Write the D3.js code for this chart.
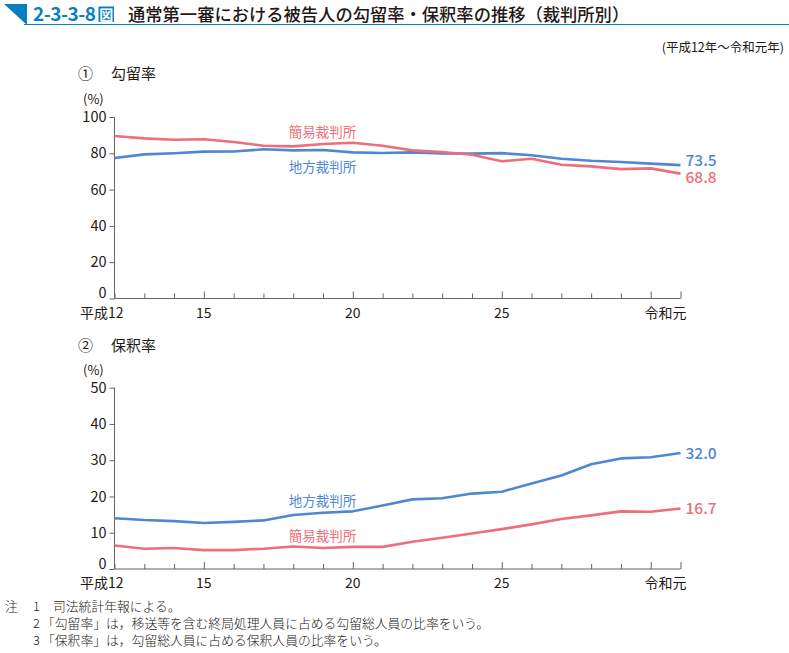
<!DOCTYPE html>
<html><head><meta charset="utf-8">
<script src="https://cdn.jsdelivr.net/npm/d3@7"></script>
<style>
html,body{margin:0;padding:0;background:#fff;}
svg{display:block;font-family:"Noto Sans CJK JP","Noto Sans",sans-serif;}
</style></head><body>
<svg id="c" width="789" height="653"></svg>
<script>
// Data
const years = [12,13,14,15,16,17,18,19,20,21,22,23,24,25,26,27,28,29,30,31];
const xTickLabels = [{y:12,t:"平成12"},{y:15,t:"15"},{y:20,t:"20"},{y:25,t:"25"},{y:31,t:"令和元"}];
const kouryuChiho = [77.4,79.4,80.0,80.9,81.0,82.2,81.6,81.8,80.5,80.2,80.5,79.9,79.8,80.1,78.9,77.0,75.9,75.2,74.3,73.5];
const kouryuKanni = [89.5,88.2,87.5,87.7,86.2,84.2,83.8,85.1,85.8,84.2,81.6,80.7,79.2,75.6,77.0,73.7,72.8,71.3,71.7,68.8];
const hoshakuChiho = [14.0,13.5,13.2,12.7,13.0,13.4,14.9,15.5,15.9,17.5,19.2,19.5,20.8,21.3,23.6,25.8,28.9,30.5,30.8,32.0];
const hoshakuKanni = [6.5,5.6,5.8,5.2,5.2,5.6,6.2,5.8,6.1,6.1,7.5,8.6,9.8,11.0,12.3,13.8,14.8,15.9,15.8,16.7];
const kouryuTicks = [0,20,40,60,80,100];
const hoshakuTicks = [0,10,20,30,40,50];

const BLUE = "#4f87d3", PINK = "#ee6e7b", TXT = "#231815", AX = "#6b6261", HEAD = "#0a7fbf";
const svg = d3.select("#c");

// Header
svg.append("path").attr("d","M4,4 L27,4 L27,25 Z").attr("fill",HEAD);
svg.append("line").attr("x1",24).attr("x2",789).attr("y1",24.5).attr("y2",24.5).attr("stroke",HEAD).attr("stroke-width",1.2);
svg.append("text").attr("x",33).attr("y",21).attr("fill",HEAD).attr("font-size",19).attr("font-weight",700)
  .attr("letter-spacing",-0.5).text("2-3-3-8");
svg.append("rect").attr("x",98.5).attr("y",6.5).attr("width",15.5).attr("height",15.5).attr("fill",HEAD);
svg.append("text").attr("x",106.3).attr("y",19.8).attr("text-anchor","middle").attr("fill","#fff").attr("font-size",14).attr("font-weight",700).text("図");
svg.append("text").attr("x",128).attr("y",21).attr("fill",TXT).attr("font-size",17.3).attr("font-weight",500)
  .text("通常第一審における被告人の勾留率・保釈率の推移（裁判所別）");
svg.append("text").attr("x",784).attr("y",52).attr("text-anchor","end").attr("fill",TXT).attr("font-size",12.5)
  .text("(平成12年～令和元年)");

const x = d3.scaleLinear().domain([12,31]).range([114.5,680.5]);

function panel(opt){
  const y = d3.scaleLinear().domain([0,opt.max]).range([opt.y0,opt.y1]);
  const g = svg.append("g");
  // panel title
  g.append("text").attr("x",78).attr("y",opt.titleY).attr("fill",TXT).attr("font-size",15).text(opt.num);
  g.append("text").attr("x",111).attr("y",opt.titleY).attr("fill",TXT).attr("font-size",15).text(opt.title);
  g.append("text").attr("x",83).attr("y",opt.y1-13).attr("fill",TXT).attr("font-size",13).text("(%)");
  // y axis
  const ya = d3.axisLeft(y).tickValues(opt.ticks).tickSize(5).tickPadding(3).tickFormat(d3.format("d"));
  const yg = g.append("g").attr("transform",`translate(${x(12)},0)`).call(ya);
  yg.select(".domain").attr("stroke",AX).attr("d",`M-0,${opt.y0}V${opt.y1}`);
  yg.selectAll(".tick line").attr("stroke",AX);
  yg.selectAll(".tick text").attr("fill",TXT).attr("font-size",14.5).attr("font-family","Noto Sans CJK JP")
    .attr("dy",d=>d===0?"-0.05em":"0.32em");
  // x axis ticks inward
  const xa = d3.axisTop(x).tickValues(years).tickSize(0).tickFormat("");
  const xg = g.append("g").attr("transform",`translate(0,${opt.y0})`).call(xa);
  xg.select(".domain").attr("stroke",AX).attr("d",`M${x(12)},0H${x(31)}`);
  xg.selectAll(".tick line").attr("stroke",AX)
    .attr("y2",d=>(d%5===0||d===31)?-7:-5);
  // x labels
  g.selectAll(".xl").data(xTickLabels).enter().append("text")
    .attr("x",d=>d.y===12?x(12)+9:(d.y===31?x(31)+6:x(d.y)))
    .attr("text-anchor",d=>(d.y===12||d.y===31)?"end":"middle")
    .attr("y",opt.y0+19).attr("fill",TXT).attr("font-size",14).text(d=>d.t);
  // lines
  const line = d3.line().x((d,i)=>x(years[i])).y(d=>y(d));
  opt.series.forEach(s=>{
    g.append("path").datum(s.v).attr("d",line).attr("fill","none").attr("stroke",s.c).attr("stroke-width",2.6)
      .attr("stroke-linejoin","round");
    g.append("text").attr("x",x(31)+5).attr("y",y(s.v[s.v.length-1])+s.dy).attr("fill",s.c)
      .attr("font-size",15.5).attr("font-weight",500).text(d3.format(".1f")(s.v[s.v.length-1]));
    g.append("text").attr("x",322.5).attr("y",s.ly).attr("text-anchor","middle").attr("fill",s.c)
      .attr("font-size",13.5).text(s.name);
  });
}

panel({max:100,y0:298.5,y1:117,ticks:kouryuTicks,titleY:79,num:"①",title:"勾留率",
  series:[
    {v:kouryuChiho,c:BLUE,name:"地方裁判所",ly:171.5,dy:0.5},
    {v:kouryuKanni,c:PINK,name:"簡易裁判所",ly:136.5,dy:9.2}
  ]});
panel({max:50,y0:569,y1:387.7,ticks:hoshakuTicks,titleY:351,num:"②",title:"保釈率",
  series:[
    {v:hoshakuChiho,c:BLUE,name:"地方裁判所",ly:506,dy:6},
    {v:hoshakuKanni,c:PINK,name:"簡易裁判所",ly:540.5,dy:6}
  ]});

// Notes
const notes = [
  ["注","1","司法統計年報による。"],
  ["","2","「勾留率」は，移送等を含む終局処理人員に占める勾留総人員の比率をいう。"],
  ["","3","「保釈率」は，勾留総人員に占める保釈人員の比率をいう。"]
];
const ng = svg.append("g").attr("font-size",12.8).attr("fill",TXT).attr("font-weight",300);
notes.forEach((n,i)=>{
  const yy = 611 + i*17;
  ng.append("text").attr("x",5).attr("y",yy).text(n[0]);
  ng.append("text").attr("x",33).attr("y",yy).text(n[1]);
  ng.append("text").attr("x",i===0?53:42).attr("y",yy).text(n[2]);
});
</script></body></html>
